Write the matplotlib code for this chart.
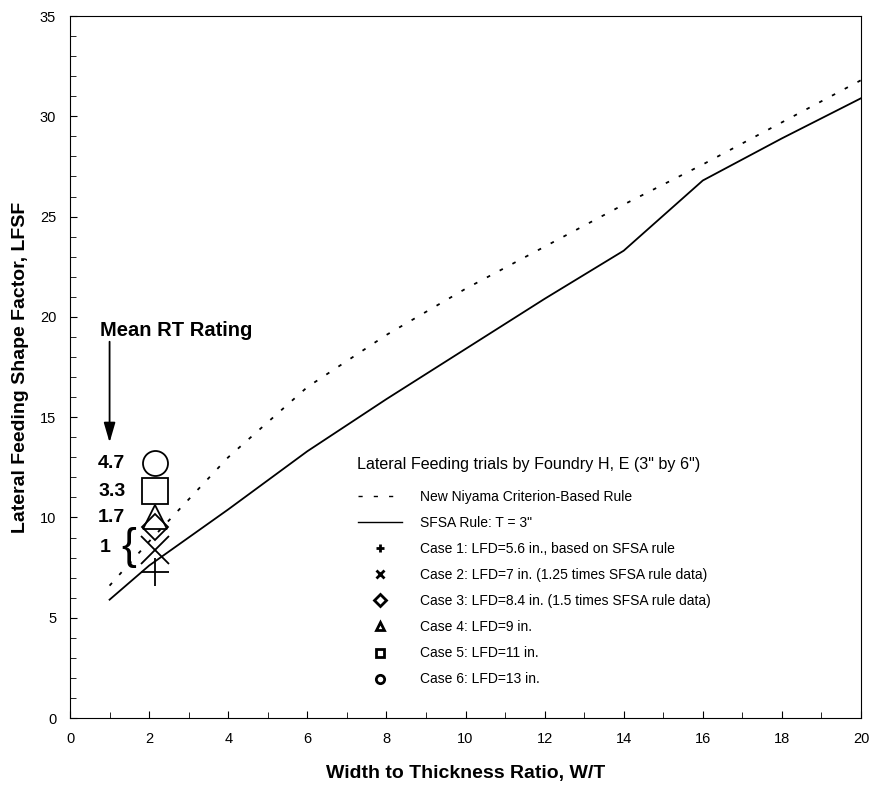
import matplotlib
matplotlib.use('Agg')
from matplotlib import pyplot as plt
from matplotlib.lines import Line2D
from matplotlib.ticker import MultipleLocator

plt.rcParams['font.family'] = ['Liberation Sans', 'DejaVu Sans']

# curves
wt = [1, 2, 4, 6, 8, 10, 12, 14, 16, 18, 20]
sfsa = [5.9, 7.6, 10.4, 13.3, 15.9, 18.4, 20.9, 23.3, 26.8, 28.9, 30.9]
niyama = [6.6, 8.8, 13.0, 16.5, 19.1, 21.4, 23.5, 25.6, 27.6, 29.7, 31.8]

# trial cases (all at W/T = 2)
case_x = 2.15
case_lfsf = [7.3, 8.4, 9.5, 10.0, 11.3, 12.7]
case_markers = ['+', 'x', 'D', '^', 's', 'o']
case_sizes = [20, 20, 13, 17, 19, 18]
case_labels = ['Case 1: LFD=5.6 in., based on SFSA rule',
               'Case 2: LFD=7 in. (1.25 times SFSA rule data)',
               'Case 3: LFD=8.4 in. (1.5 times SFSA rule data)',
               'Case 4: LFD=9 in.',
               'Case 5: LFD=11 in.',
               'Case 6: LFD=13 in.']

# mean RT rating labels
rt_labels = ['4.7', '3.3', '1.7', '1']
rt_y = [12.7, 11.3, 10.0, 8.5]

fig = plt.figure(figsize=(8.71, 7.86), dpi=100)
ax = fig.add_axes([0.0804, 0.0865, 0.9081, 0.8931])

ax.plot(wt, niyama, color='black', lw=1.3, linestyle=(0, (2, 6)))
ax.plot(wt, sfsa, color='black', lw=1.3)

for y, m, s in zip(case_lfsf, case_markers, case_sizes):
    ax.plot([case_x], [y], marker=m, ms=s, mfc='none', mec='black', mew=1.3, linestyle='none')

for lab, y in zip(rt_labels, rt_y):
    xx = 0.71 if lab != '1' else 0.76
    ax.text(xx, y, lab, fontsize=14, fontweight='bold', ha='left', va='center')
ax.text(1.3, 8.5, '{', fontsize=32, ha='left', va='center')

ax.text(0.76, 19.3, 'Mean RT Rating', fontsize=14.5, fontweight='bold', ha='left', va='center')
ax.annotate('', xy=(1.0, 13.6), xytext=(1.0, 18.9),
            arrowprops=dict(arrowstyle='-|>,head_length=1.2,head_width=0.35', color='black', lw=1.3))

ax.text(7.26, 12.66, 'Lateral Feeding trials by Foundry H, E (3" by 6")', fontsize=11.6,
        ha='left', va='center')

handles = [Line2D([], [], color='black', lw=1.0, linestyle=(0, (3, 8))),
           Line2D([], [], color='black', lw=1.0)]
labels = ['New Niyama Criterion-Based Rule', 'SFSA Rule: T = 3"']
for m, lab in zip(case_markers, case_labels):
    handles.append(Line2D([], [], marker=m, ms=6, mfc='none', mec='black', mew=2, linestyle='none'))
    labels.append(lab)
leg = ax.legend(handles, labels, loc='upper left', bbox_to_anchor=(0.364, 0.325),
                frameon=False, fontsize=10, handlelength=3.2, handletextpad=1.3,
                labelspacing=0.87, borderaxespad=0, borderpad=0)

ax.set_xlim(0, 20)
ax.set_ylim(0, 35)
ax.xaxis.set_major_locator(MultipleLocator(2))
ax.xaxis.set_minor_locator(MultipleLocator(1))
ax.yaxis.set_major_locator(MultipleLocator(5))
ax.yaxis.set_minor_locator(MultipleLocator(1))
ax.tick_params(which='both', direction='in', top=False, right=False)
ax.tick_params(which='major', length=5, labelsize=10.5, pad=10)
ax.tick_params(which='minor', length=4)

ax.set_xlabel('Width to Thickness Ratio, W/T', fontsize=14, fontweight='bold', labelpad=14)
ax.set_ylabel('Lateral Feeding Shape Factor, LFSF', fontsize=14, fontweight='bold', labelpad=8)

fig.savefig('out.png', dpi=100)
